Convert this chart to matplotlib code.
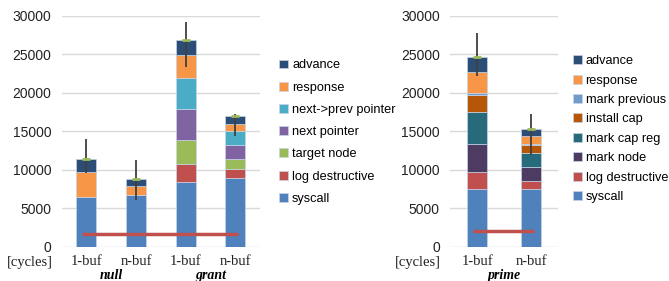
import numpy as np
import matplotlib
matplotlib.use("Agg")
import matplotlib.pyplot as plt
from matplotlib.transforms import offset_copy

plt.rcParams['font.family'] = ['Liberation Sans', 'DejaVu Sans']

# --- data ---
# left panel: null / grant
left_ticks = ["1-buf", "n-buf", "1-buf", "n-buf"]
left_groups = ["null", "grant"]
left_series = ["syscall", "log destructive", "target node", "next pointer",
               "next->prev pointer", "response", "advance"]
left_vals = {
    "syscall":            [6400, 6700, 8450, 8950],
    "log destructive":    [0,    0,    2250, 1100],
    "target node":        [0,    0,    3150, 1350],
    "next pointer":       [0,    0,    4100, 1800],
    "next->prev pointer": [0,    0,    4000, 1800],
    "response":           [3300, 1200, 2950, 1000],
    "advance":            [1750, 850,  1950, 950],
}
left_err_lo = [9600, 6100, 23400, 14400]
left_err_hi = [14000, 11200, 29200, 17200]
left_base = 1650

# right panel: prime
right_ticks = ["1-buf", "n-buf"]
right_groups = ["prime"]
right_series = ["syscall", "log destructive", "mark node", "mark cap reg",
                "install cap", "mark previous", "response", "advance"]
right_vals = {
    "syscall":         [7550, 7450],
    "log destructive": [2100, 1100],
    "mark node":       [3700, 1850],
    "mark cap reg":    [4200, 1750],
    "install cap":     [2150, 1000],
    "mark previous":   [200,  200],
    "response":        [2800, 1050],
    "advance":         [1900, 850],
}
right_err_lo = [22200, 11900]
right_err_hi = [27700, 17200]
right_base = 2000

colors = {
    "syscall": "#4f81bd",
    "log destructive": "#c0504d",
    "target node": "#9bbb59",
    "next pointer": "#8064a2",
    "next->prev pointer": "#4bacc6",
    "response": "#f79646",
    "advance": "#2c4d75",
    "mark node": "#4d3b62",
    "mark cap reg": "#276a7c",
    "install cap": "#b65708",
    "mark previous": "#729aca",
}


def draw_panel(ax, ticks, groups, series, vals, err_lo, err_hi, base, width,
               leg_x, leg_y, leg_spacing):
    x = np.arange(len(ticks))
    bottom = np.zeros(len(ticks))
    handles = []
    for s in series:
        h = ax.bar(x, vals[s], width, bottom=bottom, color=colors[s],
                   edgecolor="#c8d4e6", linewidth=0.5, label=s, zorder=2)
        handles.append(h)
        bottom += np.array(vals[s])
    total = bottom
    # error bars
    ax.vlines(x, err_lo, err_hi, color="#404040", linewidth=1.3, zorder=4)
    ax.plot(x, total, linestyle="none", marker="_", markersize=6,
            markeredgewidth=2, color="#9bbb59", zorder=5)
    # baseline
    ax.plot([x[0] - 0.08, x[-1] + 0.06], [base, base], color="#c0504d",
            linewidth=2.5, zorder=3, solid_capstyle="butt")

    ax.set_xlim(-0.5, len(ticks) - 0.5)
    ax.set_ylim(0, 30000)
    ax.set_yticks(np.arange(0, 30001, 5000))
    ax.yaxis.grid(True, color="#d9d9d9", linewidth=1)
    ax.set_axisbelow(True)
    for sp in ax.spines.values():
        sp.set_visible(False)
    ax.tick_params(axis="both", length=0, labelsize=10, colors="#222222")
    ax.tick_params(axis="y", pad=7.5)
    ax.set_xticks(x)
    ax.set_xticklabels(ticks, fontfamily="Liberation Serif", fontsize=10.5)
    ax.tick_params(axis="x", pad=6)
    trans = offset_copy(ax.transAxes, fig=ax.figure, x=-9, y=0, units="dots")
    ax.text(0, -0.083, "[cycles]", transform=trans,
            ha="right", va="baseline", fontfamily="Liberation Serif",
            fontsize=10.5, color="#222222")
    for i, g in enumerate(groups):
        ax.text(2 * i + 0.5, -0.138, g, transform=ax.get_xaxis_transform(),
                ha="center", va="baseline", fontfamily="Liberation Serif",
                fontsize=10, fontweight="bold", fontstyle="italic")

    leg = ax.legend(handles[::-1], series[::-1], loc="center left",
                    bbox_to_anchor=(leg_x, leg_y), frameon=False, fontsize=9.2,
                    handlelength=0.7, handleheight=0.7, handletextpad=0.3,
                    labelspacing=leg_spacing, borderaxespad=0)
    return leg


fig = plt.figure(figsize=(6.69, 2.81), dpi=100)
ax1 = fig.add_axes([0.092, 0.122, 0.297, 0.822])
ax2 = fig.add_axes([0.673, 0.122, 0.161, 0.822])

draw_panel(ax1, left_ticks, left_groups, left_series, left_vals,
           left_err_lo, left_err_hi, left_base, 0.4, 1.07, 0.496, 0.8)
draw_panel(ax2, right_ticks, right_groups, right_series, right_vals,
           right_err_lo, right_err_hi, right_base, 0.37, 1.09, 0.509, 0.58)

fig.savefig("out.png", dpi=100)
